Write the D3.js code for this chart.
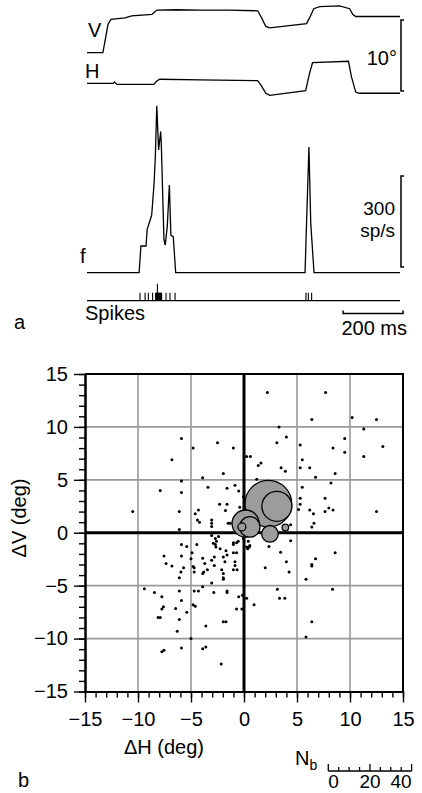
<!DOCTYPE html>
<html><head><meta charset="utf-8">
<script src="https://cdn.jsdelivr.net/npm/d3@7"></script>
<style>
html,body{margin:0;padding:0;background:#fff;}
svg{display:block;}
text{font-family:"Liberation Sans",Arial,Helvetica,sans-serif;fill:#000;}
</style></head><body>
<svg id="c" width="422" height="793"></svg>
<script>
// ---------- DATA ----------
// eye position traces (time ms, degrees)
const vTrace = [[0,0],[53,0],[63,2.3],[70,4.0],[80,4.7],[127,4.9],[149,5.2],[217,5.4],[233,6.0],[300,6.05],[377,6.0],[470,6.0],[570,5.9],[583,4.9],[597,3.7],[610,3.5],[733,4.1],[743,4.9],[757,6.2],[777,6.5],[843,6.6],[877,6.2],[887,5.4],[897,5.1],[1045,5.1]];
const hTrace = [[0,0],[88,0],[92,0.2],[100,-0.15],[223,-0.15],[233,0.33],[243,0.57],[377,0.47],[570,0.37],[583,-0.4],[597,-1.4],[610,-1.7],[730,-1.05],[743,1.4],[753,2.9],[873,3.1],[883,0.9],[897,-1.2],[907,-1.4],[1045,-1.4]];
// firing rate (time ms, sp/s)
const rateTrace = [[0,0],[174,0],[180,88],[197,88],[201,143],[216,190],[224,295],[228,380],[233,550],[239,405],[246,465],[248,427],[257,108],[261,91],[268,152],[275,289],[280,124],[288,119],[296,0],[728,0],[733,163],[741,414],[747,163],[758,0],[1045,0]];
// spike times (ms)
const spikeTimes = [177,194,205,219,229,231,233,235,237,239,241,243,245,247,249,264,277,294,731,739,750];
const markerTimes = [235];
// scatter: [ΔH, ΔV] in deg
const dots = [
[-5.9,8.9],[-4.8,8.0],[-2.5,8.5],[-1.0,8.0],[0.25,7.2],[0.6,7.2],[-6.8,6.9],[-3.9,5.2],[-1.95,5.6],[-7.9,4.0],[-5.9,4.9],[-5.9,3.8],[-3.4,4.3],[-1.6,4.2],[-0.85,4.5],[-0.5,3.95],[-10.5,2.0],[-6.1,2.0],[-2.3,2.7],[-1.6,2.7],[-1.75,2.1],[-4.3,2.15],[-4.6,1.8],[-4.4,1.2],[-4.2,1.0],[-3.05,1.2],[-3.05,0.9],[-3.05,0.6],[-1.5,0.9],[-1.3,0.9],[-6.1,0.3],[-0.4,2.4],[-0.05,3.4],[1.2,5.05],
[2.2,13.25],[7.7,13.25],[6.4,10.7],[10.2,10.9],[12.5,10.7],[11.3,9.8],[3.3,10.0],[4.0,9.05],[3.1,8.5],[5.3,8.3],[9.5,8.9],[8.4,8.0],[9.5,7.6],[13.1,8.15],[11.3,7.2],[1.35,6.35],[1.6,6.6],[5.5,6.9],[5.3,6.15],[6.2,6.15],[3.5,6.15],[3.9,5.8],[8.6,5.6],[6.75,5.25],[8.2,4.7],[5.5,4.3],[7.65,3.25],[5.3,3.25],[5.3,2.7],[5.15,2.2],[6.2,2.15],[6.55,1.8],[7.65,2.0],[8.0,2.35],[8.4,2.15],[6.6,0.9],[6.4,0.55],[12.5,2.0],[4.4,0.75],
[-3.05,-0.25],[-2.4,-0.35],[-5.9,-1.1],[-5.4,-1.3],[-4.45,-1.1],[-2.7,-1.1],[-2.6,-0.8],[-2.7,-0.55],[-2.9,-1.0],[-2.65,-1.35],[-2.25,-1.5],[-1.7,-1.7],[-1.95,-2.3],[-1.8,-2.75],[-1.0,-1.9],[-0.7,-1.9],[-1.0,-1.1],[-1.0,-0.95],[-0.7,-0.95],[-0.55,-0.8],[-0.05,-0.55],[0.4,-0.8],[0.5,-1.35],[0.35,-1.5],[0.25,-1.35],[0.55,-1.2],[-0.85,-2.75],[-0.85,-3.1],[-1.0,-3.5],[-0.65,-3.5],[-7.55,-2.2],[-7.35,-2.9],[-6.8,-3.15],[-5.9,-2.2],[-5.7,-3.3],[-5.95,-3.7],[-6.1,-4.25],[-4.9,-1.9],[-5.0,-2.45],[-4.7,-3.3],[-4.7,-3.7],[-3.9,-2.4],[-3.7,-2.9],[-3.45,-3.5],[-3.9,-3.85],[-3.8,-3.7],[-3.05,-2.6],[-2.8,-2.3],[-2.8,-3.1],[-2.1,-3.5],[-1.95,-3.85],[-1.95,-4.25],[-1.95,-4.4],[-3.05,-4.75],[-1.6,-2.1],[-4.8,-3.2],
[-9.4,-5.3],[-8.45,-5.65],[-7.75,-6.05],[-6.1,-5.5],[-4.7,-5.5],[-4.3,-5.5],[-3.9,-5.1],[-2.85,-5.65],[-1.6,-5.5],[-1.6,-5.65],[-0.5,-6.05],[-0.15,-5.9],[0.25,-6.2],[0.95,-6.8],[-5.9,-6.4],[-7.75,-7.2],[-7.6,-7.0],[-6.45,-7.15],[-5.4,-7.5],[-4.8,-6.8],[-4.6,-6.95],[-0.7,-7.2],[-0.2,-7.2],[-8.1,-8.0],[-7.9,-8.0],[-6.1,-8.2],[-3.6,-8.8],[-1.95,-8.4],[-1.7,-8.4],[-6.3,-9.3],[-5.0,-10.0],[-7.75,-11.25],[-7.55,-11.1],[-5.9,-10.9],[-3.9,-10.95],[-3.6,-10.8],[-2.15,-12.4],
[2.35,-1.3],[3.45,-1.85],[4.4,-0.75],[4.0,-2.75],[4.25,-3.7],[2.0,-3.3],[8.6,-1.9],[6.75,-2.45],[6.4,-3.0],[6.4,-3.15],[5.85,-4.4],[8.35,-5.35],[3.15,-5.35],[3.35,-6.2],[3.85,-6.2],[6.4,-8.4],[5.85,-9.85]
];
// bubbles
const bubbleH  = [2.3, 3.1, 0.15, 0.55, -0.2, 2.45, 3.9];
const bubbleV  = [2.75, 2.5, 0.87, 0.55, 0.55, -0.1, 0.5];
const bubbleNb = [22.4, 14.4, 13, 9.8, 3.8, 8, 3.2];
// ticks
const majorTicks = [-15,-10,-5,0,5,10,15];
const gridTicks = [-10,-5,5,10];
const nbTicks = [0,5,10,15,20,25,30,35,40];
const nbLabels = [0,20,40];

// ---------- DRAW ----------
const svg = d3.select("#c");
const FS = 20;

// Panel a
const tx = d3.scaleLinear().domain([0,1045]).range([87,400]);
const deg = d3.scaleLinear().domain([0,10]).range([0,-71]);
const rate = d3.scaleLinear().domain([0,300]).range([272.7,181.7]);
const vBase = 52.7, hBase = 83.3;

const a = svg.append("g");
const line = d3.line().x(d=>tx(d[0]));
a.append("path").attr("d", line.y(d=>vBase+deg(d[1]))(vTrace)).attr("fill","none").attr("stroke","#000").attr("stroke-width",1.3);
a.append("path").attr("d", line.y(d=>hBase+deg(d[1]))(hTrace)).attr("fill","none").attr("stroke","#000").attr("stroke-width",1.3);
a.append("path").attr("d", d3.line().x(d=>tx(d[0])).y(d=>rate(d[1]))(rateTrace)).attr("fill","none").attr("stroke","#000").attr("stroke-width",1.3);

// spikes
const spY = 300.7;
a.append("line").attr("x1",tx(0)).attr("x2",tx(1045)).attr("y1",spY).attr("y2",spY).attr("stroke","#000").attr("stroke-width",1.3);
a.selectAll(".sp").data(spikeTimes).join("line").attr("x1",d=>tx(d)).attr("x2",d=>tx(d)).attr("y1",spY).attr("y2",spY-8).attr("stroke","#000").attr("stroke-width",1.1);
a.selectAll(".mk").data(markerTimes).join("line").attr("x1",d=>tx(d)).attr("x2",d=>tx(d)).attr("y1",spY).attr("y2",spY-17).attr("stroke","#000").attr("stroke-width",1.1);

// scale bars
function bracket(x, y0, y1){
  a.append("path").attr("d",`M${x+3},${y0}H${x}V${y1}H${x+3}`).attr("fill","none").attr("stroke","#000").attr("stroke-width",1.5);
}
bracket(401, 91+deg(10), 91);
bracket(401, 267-(rate(0)-rate(300)), 267);
const sbY = 313.5, sb0 = 403 - (tx(200)-tx(0));
a.append("path").attr("d",`M${sb0},${sbY-3}V${sbY}H403V${sbY-3}`).attr("fill","none").attr("stroke","#000").attr("stroke-width",1.5);

function txt(g,x,y,s,anchor,size){ return g.append("text").attr("x",x).attr("y",y).attr("text-anchor",anchor||"start").attr("font-size",size||FS).text(s); }
txt(a,88,37,"V");
txt(a,85,78,"H");
txt(a,397,65,"10°","end");
txt(a,80,263,"f");
txt(a,395,215,"300","end",19);
txt(a,395,237,"sp/s","end",19);
txt(a,85,320,"Spikes");
txt(a,407,335,"200 ms","end");
txt(a,14,329,"a");

// Panel b
const xS = d3.scaleLinear().domain([-15,15]).range([85,403]);
const yS = d3.scaleLinear().domain([-15,15]).range([691.5,374]);
const b = svg.append("g");

b.selectAll(".gx").data(gridTicks).join("line").attr("x1",d=>xS(d)).attr("x2",d=>xS(d)).attr("y1",yS(15)).attr("y2",yS(-15)).attr("stroke","#999").attr("stroke-width",1.6);
b.selectAll(".gy").data(gridTicks).join("line").attr("y1",d=>yS(d)).attr("y2",d=>yS(d)).attr("x1",xS(-15)).attr("x2",xS(15)).attr("stroke","#999").attr("stroke-width",1.6);
b.append("path").attr("d",`M${xS(-15)},${yS(15)}H${xS(15)}V${yS(-15)}`).attr("fill","none").attr("stroke","#000").attr("stroke-width",2);
b.append("line").attr("x1",xS(-15)).attr("x2",xS(15)).attr("y1",yS(0)).attr("y2",yS(0)).attr("stroke","#000").attr("stroke-width",3);
b.append("line").attr("x1",xS(0)).attr("x2",xS(0)).attr("y1",yS(15)).attr("y2",yS(-15)).attr("stroke","#000").attr("stroke-width",3);

b.selectAll(".dot").data(dots).join("circle").attr("cx",d=>xS(d[0])).attr("cy",d=>yS(d[1])).attr("r",1.5).attr("fill","#000");

const nb = d3.scaleLinear().domain([0,40]).range([0,83.3]);
const bub = bubbleNb.map((n,i)=>({h:bubbleH[i],v:bubbleV[i],n}));
b.selectAll(".bub").data(bub).join("circle").attr("cx",d=>xS(d.h)).attr("cy",d=>yS(d.v)).attr("r",d=>nb(d.n)/2).attr("fill","#9c9c9c").attr("stroke","#000").attr("stroke-width",1.3);

// axes
function styleAxis(g){
  g.selectAll("path.domain").attr("stroke","#000").attr("stroke-width",2);
  g.selectAll(".tick line").attr("stroke","#000").attr("stroke-width",1.4);
  g.selectAll("text").attr("font-size",FS).attr("font-family","'Liberation Sans',Arial,sans-serif").attr("fill","#000");
}
const minor = d3.range(-15,16);
b.append("g").attr("transform",`translate(${xS(-15)},0)`).call(d3.axisLeft(yS).tickValues(minor).tickSize(6).tickSizeOuter(0).tickFormat("")).call(styleAxis);
b.append("g").attr("transform",`translate(${xS(-15)},0)`).call(d3.axisLeft(yS).tickValues(majorTicks).tickSize(11).tickSizeOuter(0).tickPadding(6)).call(styleAxis);
b.append("g").attr("transform",`translate(0,${yS(-15)})`).call(d3.axisBottom(xS).tickValues(minor).tickSize(6).tickSizeOuter(0).tickFormat("")).call(styleAxis);
b.append("g").attr("transform",`translate(0,${yS(-15)})`).call(d3.axisBottom(xS).tickValues(majorTicks).tickSize(11).tickSizeOuter(0).tickPadding(9)).call(styleAxis);

b.append("text").attr("transform","translate(19,518) rotate(-90)").attr("dy","0.35em").attr("text-anchor","middle").attr("font-size",FS).text("ΔV (deg)");
txt(b,164,754,"ΔH (deg)","middle");
txt(b,18,787,"b");

// Nb legend
const lx0 = 328.3, ly = 771;
const lg = b.append("g");
lg.append("line").attr("x1",lx0+nb(0)).attr("x2",lx0+nb(40)).attr("y1",ly).attr("y2",ly).attr("stroke","#000").attr("stroke-width",1.5);
lg.selectAll(".lt").data(nbTicks).join("line").attr("x1",d=>lx0+nb(d)).attr("x2",d=>lx0+nb(d)).attr("y1",ly).attr("y2",d=>ly-(d%20===0?7:4)).attr("stroke","#000").attr("stroke-width",1.3);
lg.selectAll(".ll").data(nbLabels).join("text").attr("x",d=>lx0+nb(d)).attr("y",788).attr("text-anchor",(d,i)=>i===0?"start":(i===nbLabels.length-1?"end":"middle")).attr("font-size",19).text(d=>d);
const nt = lg.append("text").attr("x",295).attr("y",765).attr("font-size",FS);
nt.append("tspan").text("N");
nt.append("tspan").attr("font-size",14).attr("dy",5).text("b");
</script>
</body></html>
